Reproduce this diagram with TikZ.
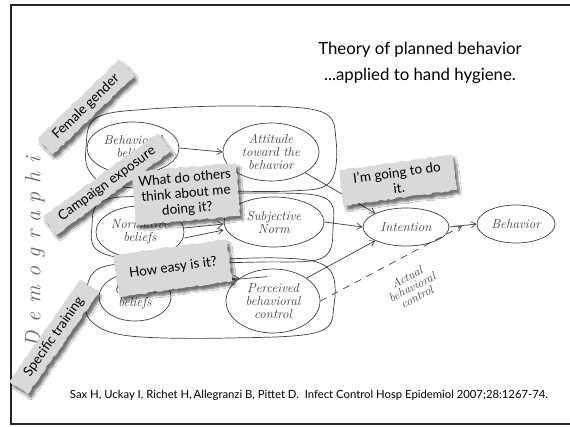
\documentclass[tikz,border=0pt]{standalone}
\usepackage{fontspec}
\setmainfont{Lato}
\newfontfamily\handfont{Latin Modern Roman}
\usetikzlibrary{shapes.geometric,arrows.meta,shadows.blur,decorations.pathmorphing}

\tikzset{
  sketch/.style={draw=black!75, line width=0.7pt},
  hand/.style={font=\handfont\itshape\fontsize{13}{13}\selectfont, align=center, text=black!75},
  bubble/.style={ellipse, sketch, inner sep=0pt},
  flow/.style={sketch, -{Straight Barb[length=5pt,width=6pt]}},
  tag/.style={fill=black!15, font=\fontsize{13.5}{15.5}\selectfont, align=center,
    inner xsep=6pt, inner ysep=5pt,
    decorate, decoration={random steps, segment length=3pt, amplitude=0.8pt},
    blur shadow={shadow xshift=3pt, shadow yshift=-4pt, shadow blur steps=6,
      shadow blur extra rounding=1pt, shadow opacity=55}},
  frameline/.style={draw=black!85, line width=1.3pt},
}

\begin{document}
\begin{tikzpicture}[x=1pt, y=-1pt]
  \useasboundingbox (0,0) rectangle (570,426);
  \fill[white] (0,0) rectangle (570,426);

  % slide frame
  \coordinate (fr1) at (570,5);
  \coordinate (fr2) at (11,5);
  \coordinate (fr3) at (11,424);
  \coordinate (fr4) at (570,424);
  \draw[frameline] (fr1) -- (fr2) -- (fr3) -- (fr4);

  % heading and reference
  \node[font=\fontsize{16.8}{26}\selectfont, align=center] (title) at (420,63)
    {Theory of planned behavior\\...applied to hand hygiene.};
  \node[font=\fontsize{11.3}{13}\selectfont] (cite) at (309,395)
    {Sax H, Uckay I, Richet H,\,Allegranzi B, Pittet D.\ \ Infect Control Hosp Epidemiol 2007;28:1267-74.};

  % hand-drawn model: enclosing loops
  \draw[sketch] plot[smooth cycle, tension=0.6] coordinates
    {(86,148) (96,118) (150,109) (250,106) (322,112) (336,140) (330,182) (290,191) (200,190) (115,186) (90,172)};
  \draw[sketch] plot[smooth cycle, tension=0.6] coordinates
    {(92,226) (104,200) (170,196) (260,193) (325,198) (333,228) (322,258) (260,262) (160,262) (100,252)};
  \draw[sketch] plot[smooth cycle, tension=0.6] coordinates
    {(86,298) (100,268) (170,262) (280,258) (328,268) (334,305) (318,332) (230,338) (130,336) (92,322)};

  % beliefs and constructs
  \node[bubble, minimum width=92, minimum height=52, hand] (bb) at (133,148) {Behavioral\\beliefs};
  \node[bubble, minimum width=88, minimum height=52, hand] (nb) at (140,232) {Normative\\beliefs};
  \node[bubble, minimum width=72, minimum height=48, hand] (cb) at (135,297) {Control\\beliefs};
  \node[bubble, minimum width=96, minimum height=58, hand] (att) at (271,152) {Attitude\\toward the\\behavior};
  \node[bubble, minimum width=100, minimum height=50, hand] (sn) at (274,222) {Subjective\\Norm};
  \node[bubble, minimum width=94, minimum height=64, hand] (pbc) at (273,301) {Perceived\\behavioral\\control};
  \node[bubble, minimum width=86, minimum height=38, hand] (int) at (406,227) {Intention};
  \node[bubble, minimum width=78, minimum height=38, hand] (beh) at (516,224) {Behavior};

  % belief-to-construct strokes
  \draw[flow] (bb.east) -- (att.west);
  \draw[flow] ([yshift=-6pt]nb.east) -- ([yshift=-8pt]sn.west);
  \draw[flow] ([yshift=4pt]nb.east) -- ([yshift=-2pt]sn.west);
  \draw[flow] (cb.north east) -- (pbc.north west);
  \draw[sketch] ([yshift=-6pt]cb.north east) -- ([xshift=-6pt,yshift=-8pt]pbc.north);

  % paths into intention and behaviour
  \coordinate (jn) at (462,226);
  \draw[flow] (att.south east) -- (int.north west);
  \draw[flow] (sn.east) -- (int.west);
  \draw[flow] (pbc.north east) -- (int.south west);
  \draw[flow] (int.east) -- (beh.west);
  \draw[flow, dashed, dash pattern=on 7pt off 6pt] (pbc.east) -- (jn);
  \node[hand, rotate=27, font=\handfont\itshape\fontsize{12}{11}\selectfont] (abc) at (412,287)
    {Actual\\behavioral\\control};

  % demographics, written up the side
  \node[rotate=90, text=black!60,
    font=\handfont\itshape\fontsize{22}{22}\selectfont\addfontfeatures{LetterSpace=40}]
    (demo) at (35,252) {Demographi};

  % paper tags laid over the model
  \node[tag, rotate=44, minimum width=114] (fem) at (86,107) {Female gender};
  \node[tag, rotate=36, minimum width=142] (camp) at (107,184) {Campaign exposure};
  \node[tag, rotate=5] (others) at (186,194) {What do others\\think about me\\doing it?};
  \node[tag, rotate=8, minimum width=114] (going) at (398,180) {I'm going to do\\it.};
  \node[tag, rotate=8, minimum width=114, minimum height=42] (easy) at (173,268) {How easy is it?};
  \node[tag, rotate=55, minimum width=124] (train) at (54,337) {Specific training};
\end{tikzpicture}
\end{document}
